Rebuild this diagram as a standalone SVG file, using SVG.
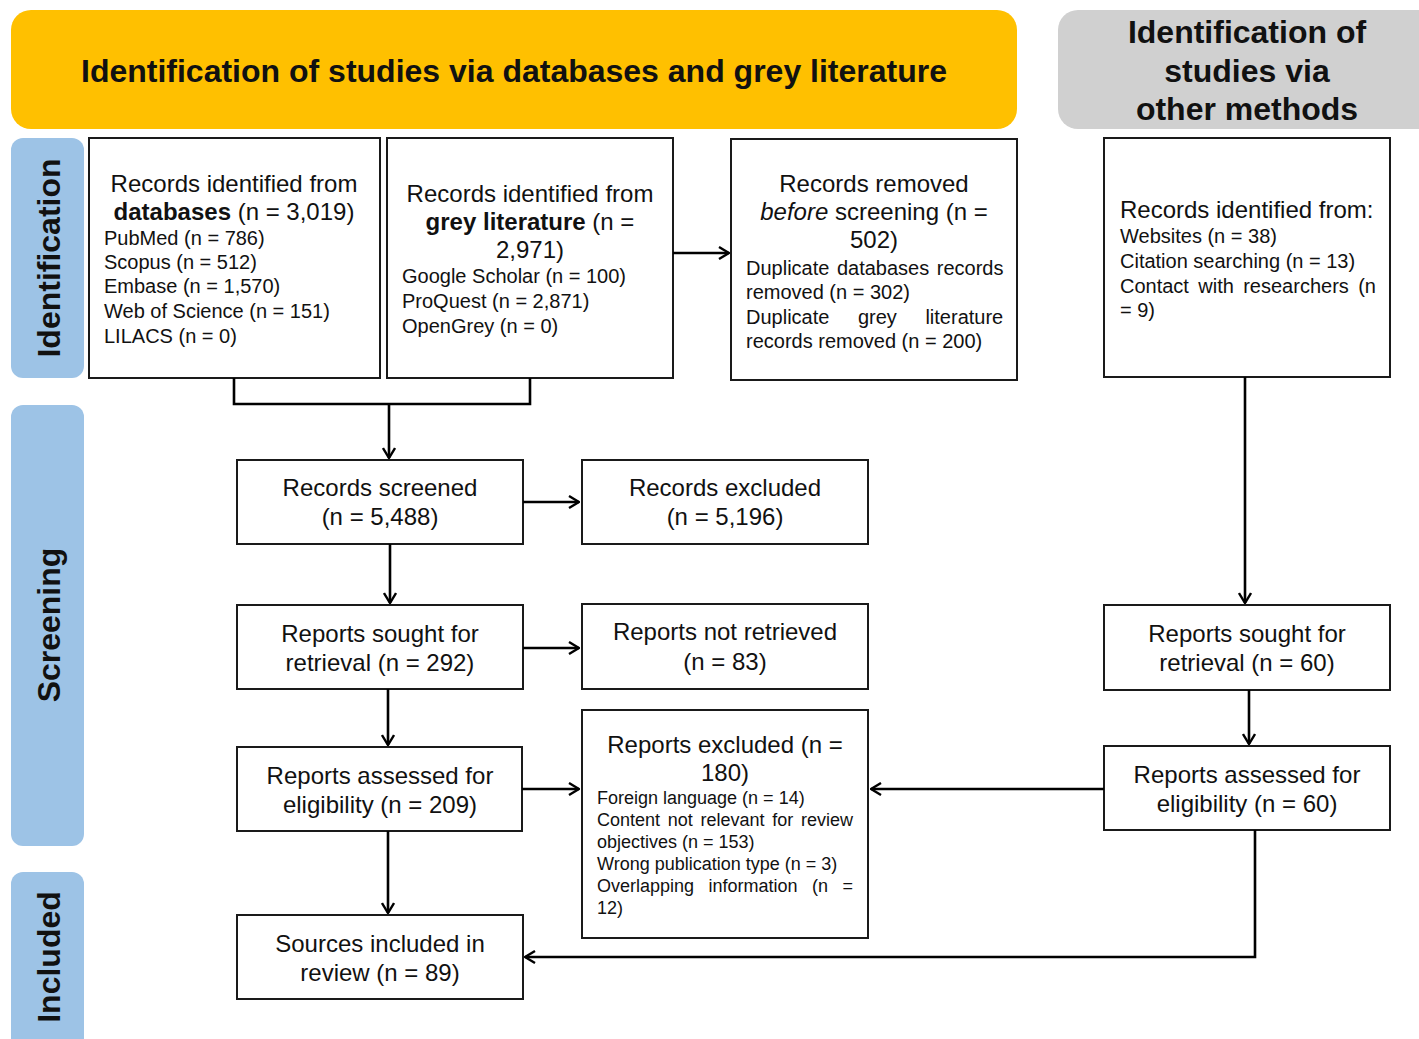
<svg xmlns="http://www.w3.org/2000/svg" width="1419" height="1039" viewBox="0 0 1419 1039">
<style>
text{font-family:"Liberation Sans",Arial,sans-serif;fill:#111}
.hd{font-size:32px;font-weight:bold;text-anchor:middle}
.side{font-size:32px;font-weight:bold;text-anchor:middle}
.m{font-size:24px;text-anchor:middle}
.ml{font-size:24px;text-anchor:start}
.s{font-size:20px}
.xs{font-size:18px}
.box{fill:#fff;stroke:#1a1a1a;stroke-width:2}
.c{fill:none;stroke:#000;stroke-width:2.6}
</style>
<defs>
<marker id="arr" viewBox="0 0 12 14" refX="11" refY="7" markerWidth="12" markerHeight="14" markerUnits="userSpaceOnUse" orient="auto">
<path d="M1,1 L11,7 L1,13" fill="none" stroke="#000" stroke-width="2.4"/>
</marker>
</defs>
<rect width="1419" height="1039" fill="#fff"/>

<g id="header-main">
<rect x="11" y="10" width="1006" height="119" rx="20" fill="#FFC000"/>
<text class="hd" x="514" y="82">Identification of studies via databases and grey literature</text>
</g>
<g id="header-other">
<rect x="1058" y="10" width="400" height="119" rx="20" fill="#D0D0D0"/>
<text class="hd" x="1247" y="43">Identification of</text>
<text class="hd" x="1247" y="82">studies via</text>
<text class="hd" x="1247" y="120">other methods</text>
</g>

<g id="side-identification">
<rect x="11" y="138" width="73" height="240" rx="12" fill="#9DC3E6"/>
<text class="side" transform="translate(60,258) rotate(-90)">Identification</text>
</g>
<g id="side-screening">
<rect x="11" y="405" width="73" height="441" rx="12" fill="#9DC3E6"/>
<text class="side" transform="translate(60,625) rotate(-90)">Screening</text>
</g>
<g id="side-included">
<rect x="11" y="872" width="73" height="200" rx="12" fill="#9DC3E6"/>
<text class="side" transform="translate(60,957) rotate(-90)">Included</text>
</g>

<g id="n-databases">
<rect class="box" x="89" y="138" width="291" height="240"/>
<text class="m" x="234" y="192">Records identified from</text>
<text class="m" x="234" y="220"><tspan font-weight="bold">databases</tspan> (n = 3,019)</text>
<text class="s" x="104" y="245">PubMed (n = 786)</text>
<text class="s" x="104" y="269">Scopus (n = 512)</text>
<text class="s" x="104" y="293">Embase (n = 1,570)</text>
<text class="s" x="104" y="318">Web of Science (n = 151)</text>
<text class="s" x="104" y="343">LILACS (n = 0)</text>
</g>

<g id="n-grey">
<rect class="box" x="387" y="138" width="286" height="240"/>
<text class="m" x="530" y="202">Records identified from</text>
<text class="m" x="530" y="230"><tspan font-weight="bold">grey literature</tspan> (n =</text>
<text class="m" x="530" y="258">2,971)</text>
<text class="s" x="402" y="283">Google Scholar (n = 100)</text>
<text class="s" x="402" y="308">ProQuest (n = 2,871)</text>
<text class="s" x="402" y="333">OpenGrey (n = 0)</text>
</g>

<g id="n-removed">
<rect class="box" x="731" y="139" width="286" height="241"/>
<text class="m" x="874" y="192">Records removed</text>
<text class="m" x="874" y="220"><tspan font-style="italic">before</tspan> screening (n =</text>
<text class="m" x="874" y="248">502)</text>
<text class="s" x="746" y="275" word-spacing="2">Duplicate databases records</text>
<text class="s" x="746" y="299">removed (n = 302)</text>
<text class="s" x="746" y="324" word-spacing="23">Duplicate grey literature</text>
<text class="s" x="746" y="348">records removed (n = 200)</text>
</g>

<g id="n-other">
<rect class="box" x="1104" y="138" width="286" height="239"/>
<text class="ml" x="1120" y="218">Records identified from:</text>
<text class="s" x="1120" y="243">Websites (n = 38)</text>
<text class="s" x="1120" y="268">Citation searching (n = 13)</text>
<text class="s" x="1120" y="293" word-spacing="3.8">Contact with researchers (n</text>
<text class="s" x="1120" y="317">= 9)</text>
</g>

<g id="n-screened">
<rect class="box" x="237" y="460" width="286" height="84"/>
<text class="m" x="380" y="496">Records screened</text>
<text class="m" x="380" y="525">(n = 5,488)</text>
</g>
<g id="n-rec-excluded">
<rect class="box" x="582" y="460" width="286" height="84"/>
<text class="m" x="725" y="496">Records excluded</text>
<text class="m" x="725" y="525">(n = 5,196)</text>
</g>
<g id="n-sought">
<rect class="box" x="237" y="605" width="286" height="84"/>
<text class="m" x="380" y="642">Reports sought for</text>
<text class="m" x="380" y="671">retrieval (n = 292)</text>
</g>
<g id="n-not-retrieved">
<rect class="box" x="582" y="604" width="286" height="85"/>
<text class="m" x="725" y="640">Reports not retrieved</text>
<text class="m" x="725" y="670">(n = 83)</text>
</g>
<g id="n-assessed">
<rect class="box" x="237" y="747" width="285" height="84"/>
<text class="m" x="380" y="784">Reports assessed for</text>
<text class="m" x="380" y="813">eligibility (n = 209)</text>
</g>
<g id="n-rep-excluded">
<rect class="box" x="582" y="710" width="286" height="228"/>
<text class="m" x="725" y="753">Reports excluded (n =</text>
<text class="m" x="725" y="781">180)</text>
<text class="xs" x="597" y="804">Foreign language (n = 14)</text>
<text class="xs" x="597" y="826" word-spacing="2.7">Content not relevant for review</text>
<text class="xs" x="597" y="848">objectives (n = 153)</text>
<text class="xs" x="597" y="870">Wrong publication type (n = 3)</text>
<text class="xs" x="597" y="892" word-spacing="9.5">Overlapping information (n =</text>
<text class="xs" x="597" y="914">12)</text>
</g>
<g id="n-included">
<rect class="box" x="237" y="915" width="286" height="84"/>
<text class="m" x="380" y="952">Sources included in</text>
<text class="m" x="380" y="981">review (n = 89)</text>
</g>
<g id="n-other-sought">
<rect class="box" x="1104" y="605" width="286" height="85"/>
<text class="m" x="1247" y="642">Reports sought for</text>
<text class="m" x="1247" y="671">retrieval (n = 60)</text>
</g>
<g id="n-other-assessed">
<rect class="box" x="1104" y="746" width="286" height="84"/>
<text class="m" x="1247" y="783">Reports assessed for</text>
<text class="m" x="1247" y="812">eligibility (n = 60)</text>
</g>

<g id="connectors">
<path class="c" d="M234,378 V404 H530 V378"/>
<path class="c" d="M389,404 V458" marker-end="url(#arr)"/>
<path class="c" d="M673,253 H729" marker-end="url(#arr)"/>
<path class="c" d="M523,502 H579" marker-end="url(#arr)"/>
<path class="c" d="M390,544 V603" marker-end="url(#arr)"/>
<path class="c" d="M523,648 H579" marker-end="url(#arr)"/>
<path class="c" d="M388,689 V745" marker-end="url(#arr)"/>
<path class="c" d="M522,789 H579" marker-end="url(#arr)"/>
<path class="c" d="M388,831 V913" marker-end="url(#arr)"/>
<path class="c" d="M1245,377 V603" marker-end="url(#arr)"/>
<path class="c" d="M1249,690 V744" marker-end="url(#arr)"/>
<path class="c" d="M1104,789 H871" marker-end="url(#arr)"/>
<path class="c" d="M1255,830 V957 H525" marker-end="url(#arr)"/>
</g>
</svg>
